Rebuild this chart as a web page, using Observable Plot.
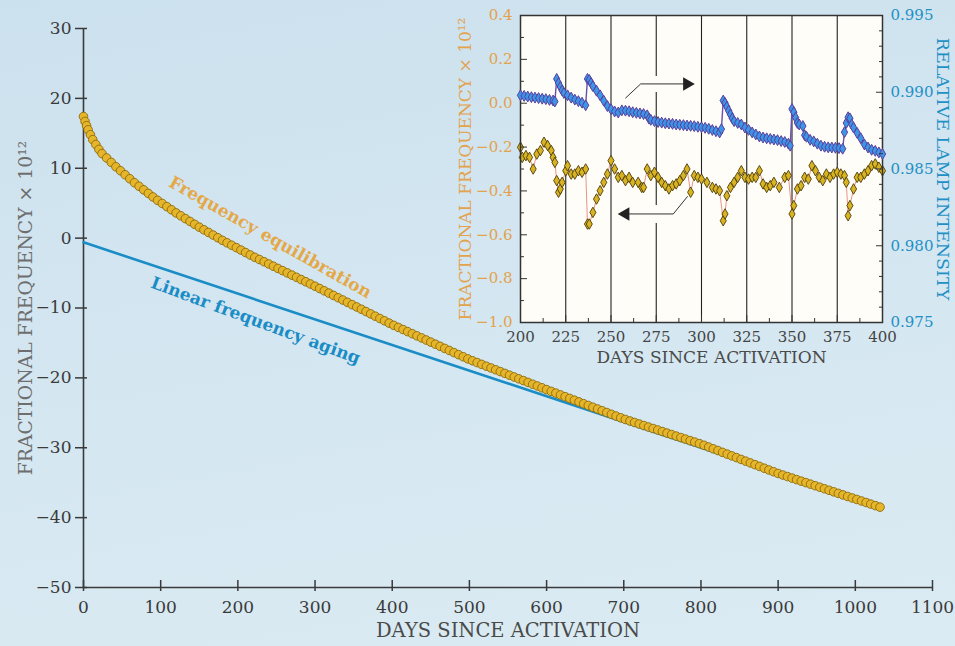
<!DOCTYPE html>
<html><head><meta charset="utf-8">
<script src="https://cdn.jsdelivr.net/npm/d3@7"></script>
<script src="https://cdn.jsdelivr.net/npm/@observablehq/plot@0.6"></script>
<style>
html,body{margin:0;padding:0;}
body{width:955px;height:646px;overflow:hidden;}
#wrap{position:relative;width:955px;height:646px;overflow:hidden;
  background:linear-gradient(170deg,#cce1ee 0%,#d5e7f1 55%,#dbebf3 100%);}
#wrap svg{position:absolute;top:0;}
</style></head>
<body><div id="wrap"></div>
<script>
// ---------- MAIN CHART DATA ----------
const mainXTicks = [0,100,200,300,400,500,600,700,800,900,1000,1100];
const mainYTicks = [30,20,10,0,-10,-20,-30,-40,-50];
const equilDays = [0,2,4,6,9,12,16,20,24,30,36,42,48,54,60,66,72,78,84,90,96,102,108,114,120,126,132,138,144,150,156,162,168,174,180,186,192,198,204,210,216,222,228,234,240,246,252,258,264,270,276,282,288,294,300,306,312,318,324,330,336,342,348,354,360,366,372,378,384,390,396,402,408,414,420,426,432,438,444,450,456,462,468,474,480,486,492,498,504,510,516,522,528,534,540,546,552,558,564,570,576,582,588,594,600,606,612,618,624,630,636,642,648,654,660,666,672,678,684,690,696,702,708,714,720,726,732,738,744,750,756,762,768,774,780,786,792,798,804,810,816,822,828,834,840,846,852,858,864,870,876,882,888,894,900,906,912,918,924,930,936,942,948,954,960,966,972,978,984,990,996,1002,1008,1014,1020,1026,1032];
const equilValues = [17.4,16.7,16.1,15.5,14.8,14.1,13.4,12.7,12.1,11.47,10.84,10.21,9.64,9.07,8.50,7.93,7.42,6.91,6.40,5.89,5.41,4.96,4.51,4.06,3.61,3.20,2.79,2.39,1.98,1.57,1.19,0.82,0.44,0.06,-0.32,-0.67,-1.02,-1.36,-1.71,-2.06,-2.41,-2.75,-3.06,-3.38,-3.70,-4.02,-4.34,-4.65,-4.97,-5.29,-5.61,-5.93,-6.24,-6.56,-6.88,-7.21,-7.54,-7.87,-8.20,-8.53,-8.86,-9.19,-9.52,-9.85,-10.18,-10.51,-10.84,-11.17,-11.50,-11.83,-12.16,-12.48,-12.78,-13.08,-13.38,-13.68,-13.98,-14.28,-14.58,-14.88,-15.18,-15.48,-15.78,-16.08,-16.38,-16.68,-16.98,-17.28,-17.55,-17.81,-18.07,-18.33,-18.58,-18.84,-19.10,-19.36,-19.62,-19.87,-20.13,-20.39,-20.65,-20.91,-21.16,-21.42,-21.68,-21.93,-22.18,-22.44,-22.69,-22.94,-23.19,-23.44,-23.70,-23.95,-24.20,-24.45,-24.70,-24.96,-25.21,-25.46,-25.71,-25.95,-26.17,-26.38,-26.60,-26.82,-27.03,-27.25,-27.46,-27.68,-27.90,-28.11,-28.33,-28.54,-28.76,-28.98,-29.19,-29.41,-29.65,-29.90,-30.15,-30.40,-30.66,-30.91,-31.16,-31.41,-31.67,-31.92,-32.17,-32.42,-32.67,-32.93,-33.18,-33.43,-33.68,-33.90,-34.12,-34.34,-34.56,-34.78,-34.99,-35.21,-35.43,-35.65,-35.87,-36.09,-36.31,-36.53,-36.75,-36.97,-37.19,-37.40,-37.62,-37.84,-38.06,-38.28,-38.50];
const agingDays = [0, 1032];
const agingValues = [-0.6, -38.5];
const noteText = ["Frequency equilibration", "Linear frequency aging"];
const noteDays = [242, 223];
const noteValues = [0.1, -11.8];
const noteAngles = [29.5, 20.3];

// ---------- INSET DATA ----------
const insetXTicks = [200,225,250,275,300,325,350,375,400];
const insetXMinor = [212.5,237.5,262.5,287.5,312.5,337.5,362.5,387.5];
const insetGrid = [225,250,275,300,325,350,375];
const freqTicks = [0.4,0.2,0.0,-0.2,-0.4,-0.6,-0.8,-1.0];
const freqMinor = [0.3,0.1,-0.1,-0.3,-0.5,-0.7,-0.9];
const lampTicks = [0.995,0.990,0.985,0.980,0.975];
const lampMinor = [0.976,0.977,0.978,0.979,0.981,0.982,0.983,0.984,0.986,0.987,0.988,0.989,0.991,0.992,0.993,0.994];

const freqDays = [200,201,203,205,207,209,211,213,215,217,218,219,220,221,222,223,225,226,228,230,232,234,236,237,238,240,242,244,246,248,250,252,254,256,258,260,262,265,267,268,270,272,274,276,278,280,282,284,286,288,290,292,294,296,298,300,303,306,308,310,312,313,314,316,318,320,322,324,326,328,330,332,334,336,338,340,343,346,348,350,351,353,355,357,359,361,363,365,367,369,371,373,375,377,379,380,381,382,384,386,388,390,392,394,396,398,400];
const freqValues = [-0.201,-0.247,-0.239,-0.247,-0.300,-0.232,-0.216,-0.178,-0.193,-0.216,-0.247,-0.270,-0.353,-0.406,-0.391,-0.361,-0.308,-0.285,-0.323,-0.323,-0.308,-0.315,-0.300,-0.551,-0.551,-0.498,-0.437,-0.399,-0.361,-0.323,-0.262,-0.300,-0.338,-0.330,-0.353,-0.338,-0.361,-0.361,-0.384,-0.384,-0.300,-0.330,-0.315,-0.338,-0.361,-0.376,-0.391,-0.376,-0.368,-0.353,-0.330,-0.300,-0.406,-0.330,-0.338,-0.346,-0.361,-0.384,-0.391,-0.399,-0.536,-0.505,-0.422,-0.384,-0.361,-0.338,-0.308,-0.338,-0.346,-0.338,-0.338,-0.308,-0.368,-0.384,-0.376,-0.361,-0.384,-0.338,-0.330,-0.505,-0.467,-0.391,-0.376,-0.338,-0.346,-0.285,-0.308,-0.338,-0.353,-0.323,-0.338,-0.323,-0.315,-0.323,-0.330,-0.361,-0.513,-0.467,-0.391,-0.338,-0.338,-0.323,-0.308,-0.285,-0.277,-0.292,-0.308];

const lampDays = [200,202,204,206,208,210,212,214,216,218,219,220,221,222,223,224,226,228,230,232,234,236,237,238,239,240,242,244,246,248,250,252,254,256,258,260,262,264,266,268,270,271,272,274,276,278,280,282,284,286,288,290,292,294,296,298,300,302,304,306,308,310,311,312,313,314,315,316,317,318,320,322,324,326,328,330,332,334,336,338,340,342,344,346,348,349,350,351,352,353,354,356,357,358,360,362,364,366,368,370,372,374,376,378,379,380,381,382,383,384,386,388,390,392,394,396,398,400];
const lampValues = [0.98980,0.98976,0.98972,0.98968,0.98965,0.98962,0.98958,0.98955,0.98950,0.98946,0.98940,0.99087,0.99060,0.99035,0.99012,0.98995,0.98980,0.98965,0.98952,0.98942,0.98932,0.98915,0.99087,0.99080,0.99060,0.99040,0.99010,0.98980,0.98945,0.98910,0.98890,0.98875,0.98868,0.98882,0.98880,0.98876,0.98870,0.98866,0.98862,0.98858,0.98850,0.98828,0.98820,0.98812,0.98806,0.98802,0.98798,0.98796,0.98794,0.98790,0.98788,0.98786,0.98783,0.98781,0.98779,0.98775,0.98772,0.98768,0.98762,0.98754,0.98746,0.98738,0.98760,0.98946,0.98930,0.98905,0.98880,0.98855,0.98830,0.98812,0.98800,0.98790,0.98770,0.98755,0.98738,0.98725,0.98712,0.98705,0.98700,0.98696,0.98692,0.98688,0.98682,0.98676,0.98665,0.98652,0.98891,0.98870,0.98835,0.98800,0.98790,0.98780,0.98720,0.98710,0.98690,0.98680,0.98665,0.98652,0.98645,0.98641,0.98640,0.98638,0.98636,0.98632,0.98740,0.98800,0.98837,0.98830,0.98790,0.98770,0.98735,0.98700,0.98660,0.98640,0.98625,0.98618,0.98608,0.98598];

// arrows (in inset frequency units)
const arrowUpDays = [258.1, 266.4, 292];
const arrowUpValues = [0.024, 0.088, 0.088];
const arrowDownDays = [292.2, 284.4, 258];
const arrowDownValues = [-0.426, -0.505, -0.505];
const arrowHeadDays = [292, 258];
const arrowHeadValues = [0.088, -0.505];
const arrowHeadAngles = [90, -90];

// ---------- STYLE ----------
const FONT = "'DejaVu Serif', serif";
const AXIS = "#3a3a3a";
const GOLD = "#e6b52a", GOLD_EDGE = "#8a6c10";
const BLUE = "#1a8cc6";
const ORANGE_TXT = "#e3a24c";
const CYAN_TXT = "#1e90c6";
const INSET_BG = "#fefdf8";
const tbl = (xs, ys) => xs.map((x, i) => ({x, y: ys[i]}));
const fmtInt = d3.format("d");
const wrap = document.getElementById("wrap");

// ---------- MAIN PLOT ----------
const main = Plot.plot({
  width: 955, height: 646,
  marginLeft: 83, marginRight: 23, marginTop: 28, marginBottom: 59,
  style: {background: "transparent", fontFamily: FONT, fontSize: "17px", overflow: "visible"},
  x: {domain: [0, 1100], label: null},
  y: {domain: [-50, 30], label: null},
  marks: [
    Plot.ruleX([0], {stroke: AXIS, strokeWidth: 1.6}),
    Plot.ruleY([-50], {stroke: AXIS, strokeWidth: 1.6}),
    Plot.axisY({ticks: mainYTicks, tickSize: 12, dx: 4, tickFormat: () => "", stroke: AXIS, strokeWidth: 1.5}),
    Plot.axisY({ticks: mainYTicks, tickSize: 0, tickPadding: 12, tickFormat: fmtInt, fill: AXIS, fontSize: 17}),
    Plot.axisX({ticks: mainXTicks, tickSize: 11, dy: -7, tickFormat: () => "", stroke: AXIS, strokeWidth: 1.5}),
    Plot.axisX({ticks: mainXTicks, tickSize: 0, tickPadding: 13, tickFormat: fmtInt, fill: AXIS, fontSize: 17}),
    Plot.line(tbl(agingDays, agingValues), {x: "x", y: "y", stroke: BLUE, strokeWidth: 2.6}),
    Plot.dot(tbl(equilDays, equilValues), {x: "x", y: "y", r: 4.3, fill: GOLD, stroke: GOLD_EDGE, strokeWidth: 0.9}),
    Plot.text([noteText[0]], {x: [noteDays[0]], y: [noteValues[0]], text: d => d, rotate: noteAngles[0], fill: "#e4a848", fontWeight: "bold", fontSize: 17}),
    Plot.text([noteText[1]], {x: [noteDays[1]], y: [noteValues[1]], text: d => d, rotate: noteAngles[1], fill: BLUE, fontWeight: "bold", fontSize: 17}),
    Plot.text(["DAYS SINCE ACTIVATION"], {text: d => d, frameAnchor: "bottom", dy: 49, fontSize: 19.5, fill: "#4a4a4a"}),
    Plot.text(["FRACTIONAL FREQUENCY × 10¹²"], {text: d => d, frameAnchor: "left", textAnchor: "middle", rotate: -90, dx: -58, fontSize: 18.8, fill: "#6e6e6e"})
  ]
});
main.style.left = "0px";
wrap.appendChild(main);

// ---------- INSET (frequency, left scale) ----------
const IW = 515, IH = 380;
const IM = {marginLeft: 80, marginRight: 73, marginTop: 15, marginBottom: 58};
const inset1 = Plot.plot({
  width: IW, height: IH, ...IM,
  style: {background: "transparent", fontFamily: FONT, fontSize: "15px", overflow: "visible"},
  x: {domain: [200, 400], label: null},
  y: {domain: [-1.0, 0.4], label: null},
  marks: [
    Plot.frame({fill: INSET_BG, stroke: "none"}),
    Plot.ruleX(insetGrid, {stroke: "#222", strokeWidth: 1.1}),
    Plot.line(tbl(arrowUpDays, arrowUpValues), {x: "x", y: "y", stroke: INSET_BG, strokeWidth: 16}),
    Plot.line(tbl(arrowDownDays, arrowDownValues), {x: "x", y: "y", stroke: INSET_BG, strokeWidth: 18}),
    Plot.line(tbl(arrowUpDays, arrowUpValues), {x: "x", y: "y", stroke: "#333", strokeWidth: 1}),
    Plot.line(tbl(arrowDownDays, arrowDownValues), {x: "x", y: "y", stroke: "#333", strokeWidth: 1}),
    Plot.dot(tbl(arrowHeadDays, arrowHeadValues), {x: "x", y: "y", symbol: "triangle", r: 5, fill: "#222", rotate: (d, i) => arrowHeadAngles[i]}),
    Plot.line(tbl(freqDays, freqValues), {x: "x", y: "y", stroke: "#e07a6a", strokeWidth: 0.8}),
    Plot.dot(tbl(freqDays, freqValues), {x: "x", y: "y", symbol: "diamond", r: 3.2, fill: "#d9b422", stroke: "#4d3c08", strokeWidth: 0.9}),
    Plot.axisY({ticks: freqTicks, tickSize: 7, dx: 7, tickFormat: () => "", stroke: "#333"}),
    Plot.axisY({ticks: freqMinor, tickSize: 4, dx: 4, tickFormat: () => "", stroke: "#333"}),
    Plot.axisY({ticks: freqTicks, tickSize: 0, tickPadding: 8, tickFormat: d3.format(".1f"), fill: ORANGE_TXT, fontSize: 15}),
    Plot.axisX({ticks: insetXTicks, tickSize: 7, dy: -7, tickFormat: () => "", stroke: "#333"}),
    Plot.axisX({ticks: insetXMinor, tickSize: 4, dy: -4, tickFormat: () => "", stroke: "#333"}),
    Plot.axisX({ticks: insetXTicks, tickSize: 0, tickPadding: 9, tickFormat: fmtInt, fill: "#444", fontSize: 15}),
    Plot.text(["DAYS SINCE ACTIVATION"], {text: d => d, frameAnchor: "bottom", dy: 40, dx: 10, fontSize: 17, fill: "#4a4a4a"}),
    Plot.text(["FRACTIONAL FREQUENCY × 10¹²"], {text: d => d, frameAnchor: "left", textAnchor: "middle", rotate: -90, dx: -55, fontSize: 17, fill: ORANGE_TXT}),
    Plot.frame({stroke: "#333", strokeWidth: 1.5})
  ]
});
inset1.style.left = "440px";
wrap.appendChild(inset1);

// ---------- INSET (lamp intensity, right scale) ----------
const inset2 = Plot.plot({
  width: IW, height: IH, ...IM,
  style: {background: "transparent", fontFamily: FONT, fontSize: "15px", overflow: "visible"},
  x: {domain: [200, 400], label: null, axis: null},
  y: {domain: [0.975, 0.995], label: null},
  marks: [
    Plot.line(tbl(lampDays, lampValues), {x: "x", y: "y", stroke: "#6a4ea8", strokeWidth: 1.4}),
    Plot.dot(tbl(lampDays, lampValues), {x: "x", y: "y", symbol: "diamond", r: 3.3, fill: "#3c95e6", stroke: "#5b3e9c", strokeWidth: 1}),
    Plot.axisY({anchor: "right", ticks: lampTicks, tickSize: 7, dx: -7, tickFormat: () => "", stroke: "#333"}),
    Plot.axisY({anchor: "right", ticks: lampMinor, tickSize: 4, dx: -4, tickFormat: () => "", stroke: "#333"}),
    Plot.axisY({anchor: "right", ticks: lampTicks, tickSize: 0, tickPadding: 8, tickFormat: d3.format(".3f"), fill: CYAN_TXT, fontSize: 15}),
    Plot.text(["RELATIVE LAMP INTENSITY"], {text: d => d, frameAnchor: "right", textAnchor: "middle", rotate: 90, dx: 60, fontSize: 17.5, fill: CYAN_TXT})
  ]
});
inset2.style.left = "440px";
wrap.appendChild(inset2);
</script>
</body></html>
